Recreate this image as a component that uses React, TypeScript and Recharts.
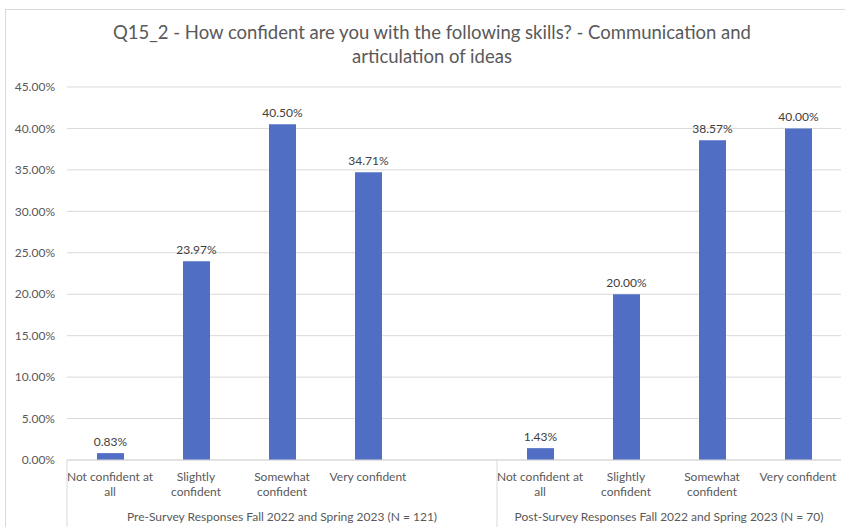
import React from 'react';
import { BarChart, Bar, XAxis, YAxis, CartesianGrid, LabelList } from 'recharts';

const categories = [
  'Not confident at all',
  'Slightly confident',
  'Somewhat confident',
  'Very confident',
  '',
  'Not confident at all',
  'Slightly confident',
  'Somewhat confident',
  'Very confident',
];

const tickLabelLines: string[][] = [
  ['Not confident at', 'all'],
  ['Slightly', 'confident'],
  ['Somewhat', 'confident'],
  ['Very confident'],
  [],
  ['Not confident at', 'all'],
  ['Slightly', 'confident'],
  ['Somewhat', 'confident'],
  ['Very confident'],
];

const percentValues: (number | null)[] = [0.83, 23.97, 40.5, 34.71, null, 1.43, 20.0, 38.57, 40.0];

const groupLabels = [
  'Pre-Survey Responses Fall 2022 and Spring 2023 (N = 121)',
  'Post-Survey Responses Fall 2022 and Spring 2023 (N = 70)',
];

const yTicks = [0, 5, 10, 15, 20, 25, 30, 35, 40, 45];

const chartData = categories.map((name, i) => ({ name, value: percentValues[i] }));

const WIDTH = 845;
const HEIGHT = 527;
const Y_AXIS_W = 67;
const MARGIN = { top: 87, right: 4, bottom: 0, left: 0 };
const BAND = (WIDTH - Y_AXIS_W - MARGIN.right) / categories.length;
const FONT = 'Lato, "Open Sans", sans-serif';
const GRID = '#D9D9D9';

// two-line category labels plus the group row underneath
const CategoryTick = (props: any) => {
  const { x, y, index } = props;
  const lines = tickLabelLines[index] || [];
  const half = BAND / 2;
  return (
    <g>
      {lines.map((l, i) => (
        <text
          key={i}
          x={x}
          y={y + 21 + i * 15}
          textAnchor="middle"
          fontSize={12}
          fontFamily={FONT}
          fill="#595959"
        >
          {l}
        </text>
      ))}
      {(index === 0 || index === 5) && (
        <line x1={x - half} x2={x - half} y1={y} y2={y + 70} stroke={GRID} />
      )}
      {index === 2 && (
        <text x={x} y={y + 61} textAnchor="middle" fontSize={12} fontFamily={FONT} fill="#595959">
          {groupLabels[0]}
        </text>
      )}
      {index === 6 && (
        <text x={x + half} y={y + 61} textAnchor="middle" fontSize={12} fontFamily={FONT} fill="#595959">
          {groupLabels[1]}
        </text>
      )}
    </g>
  );
};

export default function App() {
  return (
    <div
      style={{
        position: 'absolute',
        left: 0,
        top: 0,
        width: WIDTH,
        height: HEIGHT,
        background: '#fff',
        overflow: 'hidden',
      }}
    >
      <div
        style={{
          position: 'absolute',
          left: 5,
          top: 9,
          width: 900,
          height: 600,
          borderLeft: `1px solid ${GRID}`,
          borderTop: `1px solid ${GRID}`,
        }}
      />
      <div
        style={{
          position: 'absolute',
          left: 32,
          top: 20,
          width: 800,
          textAlign: 'center',
          fontFamily: FONT,
          fontSize: 18.5,
          lineHeight: '24px',
          color: '#595959',
        }}
      >
        Q15_2 - How confident are you with the following skills? - Communication and
        <br />
        articulation of ideas
      </div>
      <div style={{ position: 'absolute', left: 0, top: 0 }}>
        <BarChart width={WIDTH} height={HEIGHT} data={chartData} margin={MARGIN}>
          <CartesianGrid vertical={false} stroke={GRID} />
          <XAxis
            dataKey="name"
            interval={0}
            height={HEIGHT - 460}
            tickLine={false}
            tickSize={0}
            tickMargin={0}
            axisLine={{ stroke: GRID }}
            tick={<CategoryTick />}
          />
          <YAxis
            width={Y_AXIS_W}
            domain={[0, 45]}
            ticks={yTicks}
            interval={0}
            axisLine={false}
            tickLine={false}
            tickMargin={6}
            tickFormatter={(v: number) => `${v.toFixed(2)}%`}
            tick={{ fontSize: 12, fill: '#595959', fontFamily: FONT }}
          />
          <Bar dataKey="value" fill="#4F6EC4" barSize={27} isAnimationActive={false}>
            <LabelList
              dataKey="value"
              position="top"
              offset={7}
              fontSize={12}
              fontFamily={FONT}
              fill="#404040"
              formatter={(v: any) => (v == null ? '' : `${Number(v).toFixed(2)}%`)}
            />
          </Bar>
        </BarChart>
      </div>
    </div>
  );
}
